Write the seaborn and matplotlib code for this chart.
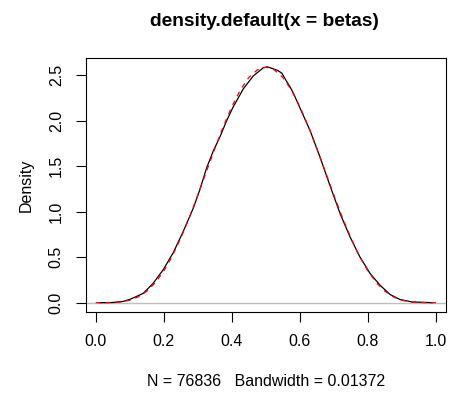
import numpy as np
import pandas as pd
import matplotlib
matplotlib.use("Agg")
import matplotlib.pyplot as plt
import seaborn as sns

# Kernel density estimate (black)
dens_x = [0.011, 0.05, 0.08, 0.1008, 0.12, 0.14, 0.169, 0.199, 0.228, 0.257,
          0.287, 0.306, 0.326, 0.346, 0.365, 0.385, 0.404, 0.434, 0.463, 0.4925,
          0.505, 0.52, 0.535, 0.547, 0.561, 0.571, 0.581, 0.600, 0.630, 0.659,
          0.688, 0.718, 0.747, 0.776, 0.806, 0.835, 0.865, 0.894, 0.93, 0.99]
dens_y = [0.000, 0.002, 0.013, 0.037, 0.068, 0.103, 0.213, 0.365, 0.55, 0.78,
          1.04, 1.24, 1.48, 1.67, 1.82, 2.00, 2.15, 2.35, 2.49, 2.58,
          2.59, 2.57, 2.55, 2.52, 2.43, 2.37, 2.30, 2.14, 1.89, 1.60,
          1.29, 0.98, 0.725, 0.505, 0.322, 0.194, 0.09, 0.035, 0.008, 0.0]

# Fitted reference curve (red dashed)
fit_x = [0.0, 0.025, 0.05, 0.075, 0.1, 0.125, 0.15, 0.175, 0.2, 0.225,
         0.25, 0.275, 0.3, 0.325, 0.35, 0.375, 0.4, 0.425, 0.45, 0.475,
         0.5, 0.525, 0.55, 0.575, 0.6, 0.625, 0.65, 0.675, 0.7, 0.725,
         0.75, 0.775, 0.8, 0.825, 0.85, 0.875, 0.9, 0.925, 0.95, 0.975, 1.0]
fit_y = [0.0, 0.0001, 0.0015, 0.008, 0.026, 0.063, 0.125, 0.219, 0.347, 0.511,
         0.709, 0.934, 1.180, 1.437, 1.692, 1.934, 2.152, 2.336, 2.473, 2.557,
         2.587, 2.557, 2.473, 2.336, 2.152, 1.934, 1.692, 1.437, 1.180, 0.934,
         0.709, 0.511, 0.347, 0.219, 0.125, 0.063, 0.026, 0.008, 0.0015, 0.0001, 0.0]

x_ticks = [0.0, 0.2, 0.4, 0.6, 0.8, 1.0]
x_tick_labels = ["0.0", "0.2", "0.4", "0.6", "0.8", "1.0"]
y_ticks = [0.0, 0.5, 1.0, 1.5, 2.0, 2.5]
y_tick_labels = ["0.0", "0.5", "1.0", "1.5", "2.0", "2.5"]

title = "density.default(x = betas)"
xlabel = "N = 76836   Bandwidth = 0.01372"
ylabel = "Density"

sns.set_theme(style="white")
plt.rcParams['font.family'] = ['Liberation Sans', 'DejaVu Sans']

fig = plt.figure(figsize=(4.49, 3.93), dpi=100)
ax = fig.add_axes([0.1915, 0.2069, 0.9927 - 0.1915, 0.8517 - 0.2069])

dens_df = pd.DataFrame({"x": dens_x, "y": dens_y})
fit_df = pd.DataFrame({"x": fit_x, "y": fit_y})

sns.lineplot(data=dens_df, x="x", y="y", ax=ax, color="black", lw=0.9,
             sort=False, estimator=None, zorder=3)
ax.axhline(0, color="#BEBEBE", lw=1.0, zorder=2)
sns.lineplot(data=fit_df, x="x", y="y", ax=ax, color="red", lw=0.9,
             sort=False, estimator=None, zorder=4, linestyle=(0, (4, 4)))

ax.set_xlim(-0.0285, 1.0285)
ax.set_ylim(-0.099, 2.684)
ax.set_xticks(x_ticks)
ax.set_xticklabels(x_tick_labels)
ax.set_yticks(y_ticks)
ax.set_yticklabels(y_tick_labels, rotation=90, va="center")

ax.tick_params(axis="both", direction="out", length=7, width=0.8, color="black",
               labelsize=11.5, labelcolor="black", bottom=True, left=True)
ax.tick_params(axis="x", pad=9)
ax.tick_params(axis="y", pad=9)

for s in ax.spines.values():
    s.set_color("black")
    s.set_linewidth(0.8)
    s.set_visible(True)

ax.set_xlabel(xlabel, fontsize=11.5, color="black", labelpad=18)
ax.set_ylabel(ylabel, fontsize=11.5, color="black", labelpad=11)
fig.text(0.588, 1 - 22 / 393, title, fontsize=13.8, fontweight="bold",
         ha="center", va="center", color="black")
ax.grid(False)

fig.savefig("out.png", dpi=100, facecolor="white")
